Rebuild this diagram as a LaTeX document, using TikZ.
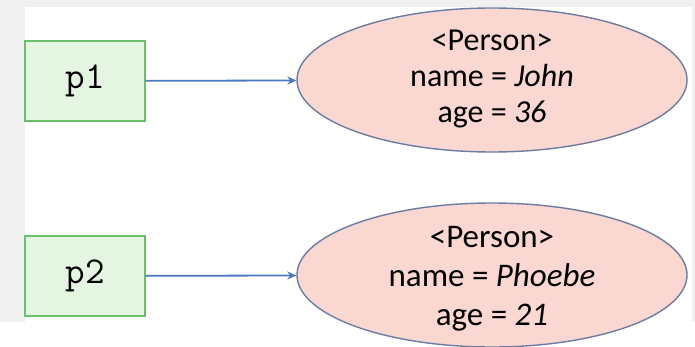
\documentclass[tikz,border=0pt]{standalone}
\usepackage{fontspec}
\setmainfont{Carlito}
\usepackage{xcolor}
\usetikzlibrary{shapes.geometric,arrows.meta}
\definecolor{pagegray}{HTML}{F0F0F0}
\definecolor{refgreen}{HTML}{6CBF6A}
\definecolor{reffill}{HTML}{E4F6E2}
\definecolor{objfill}{HTML}{FAD7D0}
\definecolor{objline}{HTML}{6C7CA4}
\definecolor{arrowblue}{HTML}{4A78C2}
\tikzset{
  ref/.style={
    draw = refgreen,
    fill = reffill,
    line width = 1.2pt,
    minimum width = 120pt,
    minimum height = 80pt,
    font = \ttfamily\fontsize{38}{38}\selectfont
  },
  object/.style={
    shape = ellipse,
    draw = objline,
    fill = objfill,
    line width = 1.4pt,
    minimum width = 390pt,
    minimum height = 144pt,
    inner sep = 0pt,
    align = center,
    text depth = 0pt,
    font = \fontsize{32}{36}\selectfont
  },
  pointer/.style={
    draw = arrowblue,
    line width = 1.8pt,
    -{Stealth[length=9pt,width=8pt]}
  }
}

\begin{document}
\begin{tikzpicture}[x=1pt,y=-1pt]
        \useasboundingbox (0,0) rectangle (695,347);
        % screenshot frame
        \fill[pagegray] (0,0) rectangle (695,347);
        \fill[white] (25,7) rectangle (692,347);
        \fill[white] (0,322) rectangle (695,347);
        % variables and objects
        \node[ref] (p1) at (85,81) {p1};
        \node[ref] (p2) at (85,276) {p2};
        \node[object, text height=86pt] (obj1) at (492,80)
          {<Person>\\name = \textit{John}\\age = \textit{36}};
        \node[object, text height=101pt, font=\fontsize{33}{39}\selectfont] (obj2) at (492,275)
          {<Person>\\name = \textit{Phoebe}\\age = \textit{21}};
        \draw[pointer] (p1) -- (obj1);
        \draw[pointer] (p2) -- (obj2);
\end{tikzpicture}
\end{document}
